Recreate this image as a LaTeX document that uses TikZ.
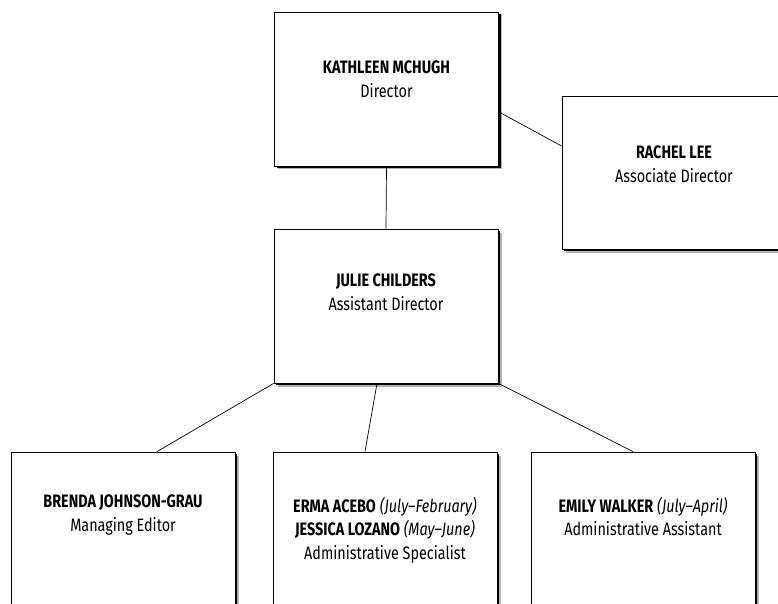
\documentclass[tikz,border=0pt]{standalone}
\usepackage{fontspec}
\setmainfont[FakeStretch=0.8]{Fira Sans}
\usetikzlibrary{positioning,shadows}

\begin{document}
\begin{tikzpicture}[x=1pt, y=-1pt,
    box/.style={draw, line width=0.8pt, fill=white, minimum width=224pt, minimum height=154pt, inner sep=0pt,
      general shadow={fill=black!30, shadow xshift=3.5pt, shadow yshift=-3.5pt},
      general shadow={fill=black, shadow xshift=2pt, shadow yshift=-2pt}},
    lbl/.style={align=center, inner sep=0pt, font=\fontsize{18}{23.5}\selectfont},
    link/.style={line width=0.7pt}]
    \useasboundingbox (0,0) rectangle (778,604);
    \clip (0,0) rectangle (778,604);
    % boxes
    \node[box] (kathleen) at (386.5,89) {};
    \node[box, minimum height=153pt] (rachel) at (674,172.5) {};
    \node[box] (julie) at (386,306) {};
    \node[box] (brenda) at (123,529) {};
    \node[box] (erma) at (385,529) {};
    \node[box] (emily) at (643,529) {};
    % texts
    \node[lbl, below=49pt of kathleen.north] (kathleenlbl) {\textbf{KATHLEEN MCHUGH}\\Director};
    \node[lbl, below=50pt of rachel.north] (rachellbl) {\textbf{RACHEL LEE}\\Associate Director};
    \node[lbl, below=45pt of julie.north] (julielbl) {\textbf{JULIE CHILDERS}\\Assistant Director};
    \node[lbl, below=43pt of brenda.north] (brendalbl) {\textbf{BRENDA JOHNSON-GRAU}\\Managing Editor};
    \node[lbl, below=45pt of erma.north] (ermalbl) {\textbf{ERMA ACEBO} \textit{(July–February)}\\\textbf{JESSICA LOZANO} \textit{(May–June)}\\Administrative Specialist};
    \node[lbl, below=45pt of emily.north] (emilylbl) {\textbf{EMILY WALKER} \textit{(July–April)}\\Administrative Assistant};
    % lines
    \draw[link] ([yshift=-23pt]kathleen.east) -- ([yshift=26.5pt]rachel.west);
    \draw[link] (kathleen.south) -- (julie.north);
    \draw[link] (julie.south west) -- ([xshift=34pt]brenda.north);
    \draw[link] ([xshift=-9pt]julie.south) -- ([xshift=-20pt]erma.north);
    \draw[link] (julie.south east) -- ([xshift=-10pt]emily.north);
\end{tikzpicture}
\end{document}
